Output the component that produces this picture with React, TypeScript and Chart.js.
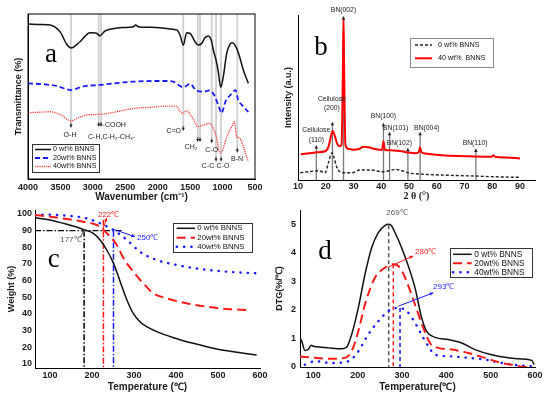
import React, { useEffect, useRef } from "react";
import { Chart, registerables } from "chart.js";

Chart.register(...registerables);

const CW = 550;
const CH = 397;
const SANS = "'Liberation Sans', Arial, sans-serif";
const SERIF = "'Liberation Serif', 'Times New Roman', serif";
const RED = "#ff1a1a";
const BLUE = "#1a1aff";

// ---------------- Panel a : FTIR ----------------
const ftirTicks = [4000, 3500, 3000, 2500, 2000, 1500, 1000, 500];
const ftirWn0 = [4000, 3800, 3661, 3507, 3400, 3337, 3198, 3044, 2950, 2890, 2820, 2736, 2550, 2376, 2340, 2300, 2119, 1900, 1760, 1700, 1656, 1605, 1553, 1502, 1425, 1374, 1322, 1271, 1220, 1167, 1143, 1101, 1066, 1029, 989, 936, 885, 850, 782, 731, 680, 603];
const ftirT0 = [93.9, 93.6, 93.3, 89.3, 81.5, 79.4, 83.2, 88.7, 88.5, 86.8, 89.5, 90.7, 91.8, 92.3, 93.3, 92.3, 91.9, 91.3, 90.7, 90.2, 87.3, 81.2, 88.7, 88.3, 83.2, 81.2, 82.2, 85.6, 86.7, 83.2, 78.2, 72.1, 65, 55.6, 62, 76.2, 81.8, 82.6, 79.2, 73.2, 66.1, 58];
const ftirWn20 = [4000, 3800, 3558, 3450, 3337, 3200, 3100, 2890, 2600, 2376, 2100, 1863, 1760, 1700, 1606, 1502, 1400, 1300, 1200, 1130, 1050, 1020, 950, 880, 800, 760, 700, 603];
const ftirT20 = [58, 57.5, 56.4, 55, 53.9, 55.5, 56.4, 57, 58.3, 59, 59.4, 59.4, 59, 57.5, 55.6, 57.6, 53.5, 52.9, 53.7, 50.9, 43, 40, 47.3, 50.9, 53.9, 47.9, 44.8, 40.6];
const ftirWn40 = [4000, 3800, 3661, 3500, 3337, 3200, 3100, 2890, 2600, 2376, 2100, 1863, 1709, 1656, 1605, 1553, 1476, 1374, 1297, 1194, 1143, 1090, 1040, 989, 936, 859, 819, 782, 731, 680, 603];
const ftirT40 = [40.2, 40.5, 40.8, 39, 35.3, 37.5, 38.8, 39.2, 41, 42.8, 43.5, 44.2, 44.2, 40.8, 39.8, 41.4, 37.8, 31.7, 32.7, 33.7, 30.7, 24.6, 15.6, 18.6, 25.6, 31.7, 34.7, 25.6, 24.6, 19.6, 10.5];
const ftirBandWn = [[3337], [2910, 2874], [1606], [1383, 1348], [1167], [1101], [1024], [773]];
const ftirBandTip = [30.9, 31.5, 29.1, 22.4, 21.6, 10.5, 10.5, 15.9];
const ftirLabelText = ["O-H", "-COOH", "C-H,C-H₂-CH₃-", "C=O", "CH₂", "C-O", "C-C", "C-O", "B-N"];
const ftirLabelWn = [3352, 2850, 3075, 1640, 1487, 1167, 1224, 993, 777];
const ftirLabelV = [26.7, 32.7, 25.5, 29.1, 19.4, 17.6, 7.9, 7.9, 12.1];
const ftirLabelAlign = ["center", "left", "left", "right", "center", "center", "center", "center", "center"];

// ---------------- Panel b : XRD ----------------
const xrdTicks = [10, 20, 30, 40, 50, 60, 70, 80, 90];
const xrd40x = [11, 14, 17, 19.8, 21, 21.8, 22.5, 23.2, 24, 25, 25.7, 26.2, 26.4, 26.6, 27.1, 28.2, 30, 32, 33.6, 35.4, 37.8, 40.3, 40.8, 41.3, 43.2, 45, 47.4, 49.8, 52.2, 53.5, 54, 54.5, 56, 58.2, 62, 67.8, 74, 79.8, 80.4, 81, 85, 90];
const xrd40y = [15.6, 16.2, 16.8, 17.4, 20.2, 26, 29.7, 27, 22.5, 20.5, 21.5, 70, 98, 70, 21, 18.8, 18.4, 18.8, 20.2, 19.8, 18.8, 18.2, 23.5, 18.2, 18, 17.8, 17.4, 16.6, 16.2, 16.8, 19.8, 16.8, 16, 15.6, 15, 14.5, 14.2, 14.1, 15, 14.1, 13.6, 13.1];
const xrd0x = [10.8, 13.8, 17.4, 19.8, 20.9, 21.8, 22.3, 23, 23.9, 25.1, 27, 29.4, 32.4, 36, 40.2, 43, 45, 47.4, 49.8, 51, 55, 61.8, 67, 73.8, 80, 90];
const xrd0y = [4.4, 5, 5.6, 4.4, 10.1, 15.2, 16.5, 13.5, 8.1, 5, 4.4, 4.4, 6.1, 6.1, 5, 5.6, 6.5, 5.6, 4.4, 4, 3.5, 3, 2.7, 2.4, 2, 1.6];
const xrdPeakPos = [16.6, 22.4, 26.4, 40.8, 43.0, 49.6, 54.0, 74.1];
const xrdPeakTip = [21.2, 35.3, 99.4, 34.7, 29.3, 19.6, 29.3, 19.2];
const xrdPeakText = [["Cellulose", "(110)"], ["Cellulose", "(200)"], ["BN(002)"], ["BN(100)"], ["BN(101)"], ["BN(102)"], ["BN(004)"], ["BN(110)"]];
const xrdPeakLabelX = [16.6, 22.2, 26.4, 40.8, 45.2, 46.5, 56.4, 73.8];
const xrdPeakLabelY = [[30.3, 24.2], [48.9, 43.4], [103], [38.8], [31.7], [22.2], [31.7], [22.2]];

// ---------------- Panel c : TGA ----------------
const tgaXTicks = [100, 200, 300, 400, 500, 600];
const tgaYTicks = [10, 20, 30, 40, 50, 60, 70, 80, 90, 100];
const tga0T = [64, 100, 140, 181, 203, 219, 235, 251, 267, 283, 298, 314, 330, 354, 394, 441, 497, 537, 592];
const tga0W = [97.8, 96.4, 93.8, 90.6, 88.4, 84.4, 78.4, 70.4, 59.4, 48.4, 40.4, 35.4, 32.4, 29.4, 25.8, 22.4, 19, 17.4, 15.4];
const tga20T = [64, 100, 140, 179, 211, 227, 243, 259, 275, 298, 322, 346, 378, 425, 473, 521, 568];
const tga20W = [99.4, 98.4, 97, 95.4, 93.4, 90.4, 86.4, 81.4, 73.4, 65.4, 58.4, 52.4, 49.4, 46.4, 44.4, 43, 42.4];
const tga40T = [64, 140, 187, 219, 251, 283, 314, 354, 402, 457, 521, 592];
const tga40W = [99.8, 99, 97.4, 94.4, 90.4, 84.4, 77.4, 72.4, 69.4, 67, 65.4, 64.4];
const tgaOnsetT = [181, 227, 251];
const tgaOnsetTop = [90, 96.5, 90];
const tgaOnsetText = ["177℃", "222℃", "250℃"];
const tgaLabelT = [124, 214, 307];
const tgaLabelW = [84.4, 99.7, 86];
const tgaArrowFrom = [[171, 85.8], [225.4, 90.4], [250.8, 90.8]];
const tgaArrowTo = [[183, 90.8], [235, 97.8], [302.4, 86.4]];

// ---------------- Panel d : DTG ----------------
const dtgXTicks = [100, 200, 300, 400, 500, 600];
const dtgYTicks = [0, 1, 2, 3, 4, 5];
const dtg0T = [70, 74, 81, 89, 95, 100, 119, 134, 164, 175, 186.5, 201.5, 216.5, 231.6, 246.6, 262, 269, 276, 284.2, 299.2, 314.3, 329.3, 344.4, 355.6, 374.4, 404.5, 434.6, 464.7, 502.3, 539.8, 570, 592.5, 598];
const dtg0D = [1.02, 0.9, 0.58, 0.62, 0.76, 0.73, 0.69, 0.67, 0.64, 0.69, 1.14, 2.07, 3.24, 4.18, 4.71, 4.96, 5.0, 4.96, 4.71, 4.18, 3.54, 2.78, 1.72, 1.25, 1.04, 0.96, 0.84, 0.61, 0.43, 0.32, 0.28, 0.23, 0.08];
const dtg20T = [70, 104, 141, 171, 186.5, 201.5, 216.5, 239, 261.7, 280.5, 295.5, 310.5, 329.3, 348.1, 363.2, 382, 412, 449.6, 487.2, 524.8, 555, 570, 592];
const dtg20D = [0.37, 0.32, 0.29, 0.32, 0.55, 1.25, 2.19, 3.13, 3.48, 3.6, 3.48, 3.0, 2.19, 1.37, 0.84, 0.67, 0.61, 0.49, 0.32, 0.14, 0.06, 0.01, 0];
const dtg40T = [81, 104, 141, 179, 201.5, 224, 246.6, 269.2, 291.7, 310.5, 329.3, 348.1, 359.4, 374.4, 412, 449.6, 487.2, 524.8, 562.4, 596];
const dtg40D = [0.08, 0.2, 0.14, 0.2, 0.55, 1.14, 1.6, 1.96, 2.07, 1.96, 1.55, 1.02, 0.73, 0.43, 0.37, 0.32, 0.26, 0.14, 0.06, 0.02];
const dtgPeakT = [270, 280.5, 295.6];
const dtgPeakTop = [4.97, 3.6, 2.07];
const dtgPeakText = ["269℃", "280℃", "293℃"];
const dtgLabelT = [264.5, 329.4, 370];
const dtgLabelD = [5.41, 4.04, 2.8];

const legendNames = ["0 wt% BNNS", "20wt% BNNS", "40wt% BNNS"];
const xrdLegendNames = ["0 wt% BNNS", "40 wt%  BNNS"];

// ---------------- helpers ----------------
interface SeriesDef { label: string; xs: number[]; ys: number[]; color: string; width: number; dash: number[]; cap?: string }

const zip = (xs: number[], ys: number[]) => xs.map((x, i) => ({ x, y: ys[i] }));

function seg(ctx: CanvasRenderingContext2D, x1: number, y1: number, x2: number, y2: number, color: string, width: number, dash: number[] = []) {
  ctx.save();
  ctx.strokeStyle = color;
  ctx.lineWidth = width;
  ctx.setLineDash(dash);
  ctx.beginPath();
  ctx.moveTo(x1, y1);
  ctx.lineTo(x2, y2);
  ctx.stroke();
  ctx.restore();
}

function head(ctx: CanvasRenderingContext2D, x1: number, y1: number, x2: number, y2: number, color: string, size: number) {
  const a = Math.atan2(y2 - y1, x2 - x1);
  ctx.save();
  ctx.fillStyle = color;
  ctx.beginPath();
  ctx.moveTo(x2, y2);
  ctx.lineTo(x2 - size * Math.cos(a - 0.45), y2 - size * Math.sin(a - 0.45));
  ctx.lineTo(x2 - size * Math.cos(a + 0.45), y2 - size * Math.sin(a + 0.45));
  ctx.closePath();
  ctx.fill();
  ctx.restore();
}

function text(ctx: CanvasRenderingContext2D, s: string, x: number, y: number, font: string, color: string, align: string = "center", baseline: string = "middle") {
  ctx.save();
  ctx.font = font;
  ctx.fillStyle = color;
  ctx.textAlign = align as CanvasTextAlign;
  ctx.textBaseline = baseline as CanvasTextBaseline;
  ctx.fillText(s, x, y);
  ctx.restore();
}

function legend(ctx: CanvasRenderingContext2D, bx: number, by: number, bw: number, bh: number, rows: number[], series: SeriesDef[], names: string[], l0: number, l1: number, tx: number, size: number, border: string) {
  ctx.save();
  ctx.fillStyle = "#ffffff";
  ctx.fillRect(bx, by, bw, bh);
  ctx.strokeStyle = border;
  ctx.lineWidth = 1;
  ctx.strokeRect(bx + 0.5, by + 0.5, bw, bh);
  series.forEach((s, i) => {
    const y = by + rows[i];
    ctx.save();
    ctx.strokeStyle = s.color;
    ctx.lineWidth = s.width;
    ctx.lineCap = (s.cap || "butt") as CanvasLineCap;
    ctx.setLineDash(s.dash);
    ctx.beginPath();
    ctx.moveTo(bx + l0, y);
    ctx.lineTo(bx + l1, y);
    ctx.stroke();
    ctx.restore();
    text(ctx, names[i], bx + tx, y, `${size}px ${SANS}`, "#111", "left");
  });
  ctx.restore();
}

interface PanelSpec {
  area: { l: number; t: number; r: number; b: number };
  padL: number;
  xH: number;
  xMin: number; xMax: number; xReverse?: boolean; xTicks: number[]; xTickSize: number; xTickPad: number;
  xTitle: string; xTitleSize: number; xTitleY: number; xTitleFamily?: string;
  yMin: number; yMax: number; yTicks: number[] | null; yTickSize: number; yTickPad: number;
  yTitle: string; yTitleSize: number; yTitleX: number;
  series: SeriesDef[];
  under?: (c: any) => void;
  over?: (c: any) => void;
}

function buildConfig(s: PanelSpec): any {
  const xlh = s.xTitleSize * 1.2;
  const ylh = s.yTitleSize * 1.2;
  return {
    type: "line",
    data: {
      datasets: s.series.map((d) => ({
        label: d.label,
        data: zip(d.xs, d.ys),
        borderColor: d.color,
        backgroundColor: d.color,
        borderWidth: d.width,
        borderDash: d.dash,
        borderCapStyle: d.cap || "butt",
        borderJoinStyle: "round",
        pointRadius: 0,
        fill: false,
        cubicInterpolationMode: "monotone",
      })),
    },
    options: {
      responsive: false,
      animation: false,
      devicePixelRatio: 1,
      events: [],
      layout: { padding: { left: s.padL, top: s.area.t, right: CW - s.area.r, bottom: CH - s.area.b - s.xH } },
      plugins: { legend: { display: false }, tooltip: { enabled: false } },
      scales: {
        x: {
          type: "linear",
          min: s.xMin,
          max: s.xMax,
          reverse: !!s.xReverse,
          afterFit: (sc: any) => { sc.height = s.xH; sc.paddingLeft = 0; sc.paddingRight = 0; sc.paddingTop = 0; sc.paddingBottom = 0; },
          afterBuildTicks: (sc: any) => { sc.ticks = s.xTicks.map((v) => ({ value: v })); },
          grid: { display: false, drawTicks: false },
          border: { display: true, color: "#000", width: 1 },
          ticks: { color: "#1a1a1a", font: { family: SANS, size: s.xTickSize, weight: "bold" }, padding: s.xTickPad, maxRotation: 0, autoSkip: false, callback: (v: any) => String(v) },
          title: { display: true, text: s.xTitle, color: "#1a1a1a", font: { family: s.xTitleFamily || SANS, size: s.xTitleSize, weight: "bold", lineHeight: 1.2 }, padding: { top: 0, bottom: s.area.b + s.xH - s.xTitleY - xlh / 2 } },
        },
        y: {
          type: "linear",
          min: s.yMin,
          max: s.yMax,
          afterFit: (sc: any) => { sc.width = s.area.l - s.padL; sc.paddingLeft = 0; sc.paddingRight = 0; sc.paddingTop = 0; sc.paddingBottom = 0; },
          afterBuildTicks: (sc: any) => { sc.ticks = (s.yTicks || []).map((v) => ({ value: v })); },
          grid: { display: false, drawTicks: false },
          border: { display: true, color: "#000", width: 1 },
          ticks: { display: !!s.yTicks, color: "#1a1a1a", font: { family: SANS, size: s.yTickSize, weight: "bold" }, padding: s.yTickPad, autoSkip: false, callback: (v: any) => String(v) },
          title: { display: true, text: s.yTitle, color: "#1a1a1a", font: { family: SANS, size: s.yTitleSize, weight: "bold", lineHeight: 1.2 }, padding: { top: s.yTitleX - s.padL - ylh / 2, bottom: 0 } },
        },
      },
    },
    plugins: [
      {
        id: "deco",
        beforeDatasetsDraw: (c: any) => { if (s.under) s.under(c); },
        afterDatasetsDraw: (c: any) => { if (s.over) s.over(c); },
      },
    ],
  };
}

// ---------------- series definitions ----------------
const ftirSeries: SeriesDef[] = [
  { label: legendNames[0], xs: ftirWn0, ys: ftirT0, color: "#111111", width: 1.5, dash: [] },
  { label: legendNames[1], xs: ftirWn20, ys: ftirT20, color: BLUE, width: 1.8, dash: [5, 3] },
  { label: legendNames[2], xs: ftirWn40, ys: ftirT40, color: "#ff3b3b", width: 1.3, dash: [1.2, 1] },
];
const xrdSeries: SeriesDef[] = [
  { label: xrdLegendNames[0], xs: xrd0x, ys: xrd0y, color: "#222222", width: 1.4, dash: [3, 2] },
  { label: xrdLegendNames[1], xs: xrd40x, ys: xrd40y, color: "#ff0000", width: 2, dash: [] },
];
const tgaSeries: SeriesDef[] = [
  { label: legendNames[0], xs: tga0T, ys: tga0W, color: "#111111", width: 1.5, dash: [] },
  { label: legendNames[1], xs: tga20T, ys: tga20W, color: RED, width: 2, dash: [9, 5] },
  { label: legendNames[2], xs: tga40T, ys: tga40W, color: BLUE, width: 2.4, dash: [0.3, 7], cap: "round" },
];
const dtgSeries: SeriesDef[] = [
  { label: legendNames[0], xs: dtg0T, ys: dtg0D, color: "#111111", width: 1.5, dash: [] },
  { label: legendNames[1], xs: dtg20T, ys: dtg20D, color: RED, width: 2, dash: [9, 5] },
  { label: legendNames[2], xs: dtg40T, ys: dtg40D, color: BLUE, width: 2.4, dash: [0.3, 7], cap: "round" },
];

// ---------------- panel specs ----------------
const specA: PanelSpec = {
  area: { l: 28, t: 14, r: 255, b: 179 }, padL: 0, xH: 30,
  xMin: 500, xMax: 4000, xReverse: true, xTicks: ftirTicks, xTickSize: 9, xTickPad: 3.5,
  xTitle: "Wavenumber (cm⁻¹)", xTitleSize: 10, xTitleY: 197.5,
  yMin: 0, yMax: 100, yTicks: null, yTickSize: 9, yTickPad: 3,
  yTitle: "Transmittance (%)", yTitleSize: 9, yTitleX: 18.5,
  series: ftirSeries,
  under: (c) => {
    const { ctx, chartArea, scales } = c;
    ftirBandWn.forEach((wns, i) => {
      const yt = scales.y.getPixelForValue(ftirBandTip[i]);
      wns.forEach((wn) => {
        const px = scales.x.getPixelForValue(wn);
        seg(ctx, px, chartArea.top, px, yt - 2, "#d0d0d0", 1.8);
      });
    });
  },
  over: (c) => {
    const { ctx, chartArea, scales } = c;
    const X = (v: number) => scales.x.getPixelForValue(v);
    const Y = (v: number) => scales.y.getPixelForValue(v);
    ftirBandWn.forEach((wns, i) => {
      const yt = Y(ftirBandTip[i]);
      wns.forEach((wn) => {
        const px = X(wn);
        seg(ctx, px, yt - 5, px, yt - 2, "#333", 0.8);
        head(ctx, px, yt - 4, px, yt, "#222", 3.5);
      });
    });
    ftirLabelText.forEach((t, i) => {
      text(ctx, t, X(ftirLabelWn[i]), Y(ftirLabelV[i]), `7px ${SANS}`, "#222", ftirLabelAlign[i]);
    });
    text(ctx, "a", X(3645), Y(70.9), `27px ${SERIF}`, "#000", "center", "alphabetic");
    ctx.save();
    ctx.strokeStyle = "#000";
    ctx.lineWidth = 1;
    ctx.strokeRect(chartArea.left, chartArea.top, chartArea.right - chartArea.left, chartArea.bottom - chartArea.top);
    ctx.restore();
    legend(ctx, chartArea.left + 4, chartArea.top + 130, 67, 28, [5.5, 14, 22.5], ftirSeries, legendNames, 3, 19, 21, 7.2, "#333");
  },
};

const specB: PanelSpec = {
  area: { l: 298, t: 15, r: 535, b: 180 }, padL: 275, xH: 30,
  xMin: 10, xMax: 95.4, xTicks: xrdTicks, xTickSize: 9, xTickPad: 1.5,
  xTitle: "2 θ (°)", xTitleSize: 10, xTitleY: 196.7, xTitleFamily: SERIF,
  yMin: 0, yMax: 100, yTicks: null, yTickSize: 9, yTickPad: 3,
  yTitle: "Intensity (a.u.)", yTitleSize: 9, yTitleX: 288.3,
  series: xrdSeries,
  under: (c) => {
    const { ctx, chartArea, scales } = c;
    xrdPeakPos.forEach((p, i) => {
      const px = scales.x.getPixelForValue(p);
      seg(ctx, px, chartArea.bottom, px, scales.y.getPixelForValue(xrdPeakTip[i]) + 3, "#7a7a7a", 1.3);
    });
  },
  over: (c) => {
    const { ctx, chartArea, scales } = c;
    const X = (v: number) => scales.x.getPixelForValue(v);
    const Y = (v: number) => scales.y.getPixelForValue(v);
    xrdPeakPos.forEach((p, i) => {
      const px = X(p);
      const yt = Y(xrdPeakTip[i]);
      head(ctx, px, yt + 5, px, yt, "#222", 4);
      xrdPeakText[i].forEach((t, j) => {
        text(ctx, t, X(xrdPeakLabelX[i]), Y(xrdPeakLabelY[i][j]), `6.8px ${SANS}`, "#222");
      });
    });
    text(ctx, "b", X(18.3), Y(75.8), `27px ${SERIF}`, "#000", "center", "alphabetic");
    legend(ctx, chartArea.left + 112, chartArea.top + 23, 83, 29, [7, 20.3], xrdSeries, xrdLegendNames, 5, 22, 28, 7.2, "#888");
  },
};

const specC: PanelSpec = {
  area: { l: 35, t: 210, r: 260, b: 368 }, padL: 0, xH: 29,
  xMin: 64, xMax: 600, xTicks: tgaXTicks, xTickSize: 9, xTickPad: 2,
  xTitle: "Temperature (℃)", xTitleSize: 10, xTitleY: 387.7,
  yMin: 7.6, yMax: 102.4, yTicks: tgaYTicks, yTickSize: 9, yTickPad: 3,
  yTitle: "Weight (%)", yTitleSize: 9, yTitleX: 11.7,
  series: tgaSeries,
  under: (c) => {
    const { ctx, scales } = c;
    const X = (v: number) => scales.x.getPixelForValue(v);
    const Y = (v: number) => scales.y.getPixelForValue(v);
    const dd = [6, 2, 1.5, 2];
    seg(ctx, X(64), Y(90), X(275), Y(90), "#000", 1.2, dd);
    const cols = ["#000", RED, BLUE];
    tgaOnsetT.forEach((t, i) => {
      seg(ctx, X(t), Y(tgaOnsetTop[i]), X(t), Y(7.6), cols[i], 1.5, dd);
    });
  },
  over: (c) => {
    const { ctx, chartArea, scales } = c;
    const X = (v: number) => scales.x.getPixelForValue(v);
    const Y = (v: number) => scales.y.getPixelForValue(v);
    const cols = ["#555", RED, BLUE];
    tgaOnsetText.forEach((t, i) => {
      const [fx, fy] = tgaArrowFrom[i];
      const [tx, ty] = tgaArrowTo[i];
      seg(ctx, X(fx), Y(fy), X(tx), Y(ty), cols[i], 1);
      head(ctx, X(fx), Y(fy), X(tx), Y(ty), cols[i], 4);
      text(ctx, t, X(tgaLabelT[i]), Y(tgaLabelW[i]), `8px ${SANS}`, cols[i], "left");
    });
    text(ctx, "c", X(108.8), Y(68.4), `27px ${SERIF}`, "#000", "center", "alphabetic");
    legend(ctx, chartArea.left + 138, chartArea.top + 13, 79, 29, [5.3, 14.7, 23.7], tgaSeries, legendNames, 3.7, 22, 24.3, 7.8, "#333");
  },
};

const specD: PanelSpec = {
  area: { l: 300, t: 210, r: 535, b: 367 }, padL: 270, xH: 30,
  xMin: 70, xMax: 600, xTicks: dtgXTicks, xTickSize: 9, xTickPad: 3,
  xTitle: "Temperature(℃)", xTitleSize: 10, xTitleY: 387.7,
  yMin: 0, yMax: 5.5, yTicks: dtgYTicks, yTickSize: 9, yTickPad: 4,
  yTitle: "DTG(%/℃)", yTitleSize: 9, yTitleX: 279.5,
  series: dtgSeries,
  under: (c) => {
    const { ctx, scales } = c;
    const X = (v: number) => scales.x.getPixelForValue(v);
    const Y = (v: number) => scales.y.getPixelForValue(v);
    const cols = ["#555", RED, BLUE];
    dtgPeakT.forEach((t, i) => {
      seg(ctx, X(t), Y(dtgPeakTop[i]), X(t), Y(0), cols[i], 1.5, [4, 3]);
    });
  },
  over: (c) => {
    const { ctx, chartArea, scales } = c;
    const X = (v: number) => scales.x.getPixelForValue(v);
    const Y = (v: number) => scales.y.getPixelForValue(v);
    const cols = ["#555", RED, BLUE];
    seg(ctx, X(269.2), Y(3.5), X(325.6), Y(3.89), RED, 1);
    head(ctx, X(269.2), Y(3.5), X(325.6), Y(3.89), RED, 4);
    seg(ctx, X(291.7), Y(2.13), X(370.7), Y(2.6), BLUE, 1);
    head(ctx, X(291.7), Y(2.13), X(370.7), Y(2.6), BLUE, 4);
    dtgPeakText.forEach((t, i) => {
      text(ctx, t, X(dtgLabelT[i]), Y(dtgLabelD[i]), `8px ${SANS}`, cols[i], "left");
    });
    text(ctx, "d", X(126.4), Y(3.77), `27px ${SERIF}`, "#000", "center", "alphabetic");
    legend(ctx, chartArea.left + 150, chartArea.top + 38, 82, 29, [6.3, 15.3, 24.3], dtgSeries, legendNames, 3, 21.7, 24.3, 8.3, "#333");
  },
};

function Panel({ spec }: { spec: PanelSpec }) {
  const ref = useRef<HTMLCanvasElement>(null);
  useEffect(() => {
    const chart = new Chart(ref.current as HTMLCanvasElement, buildConfig(spec));
    return () => chart.destroy();
  }, [spec]);
  return (
    <canvas
      ref={ref}
      width={CW}
      height={CH}
      style={{ position: "absolute", left: 0, top: 0, width: CW, height: CH, display: "block" }}
    />
  );
}

export default function App() {
  return (
    <div style={{ position: "absolute", left: 0, top: 0, width: CW, height: CH, background: "#ffffff", overflow: "hidden" }}>
      <Panel spec={specA} />
      <Panel spec={specB} />
      <Panel spec={specC} />
      <Panel spec={specD} />
    </div>
  );
}
